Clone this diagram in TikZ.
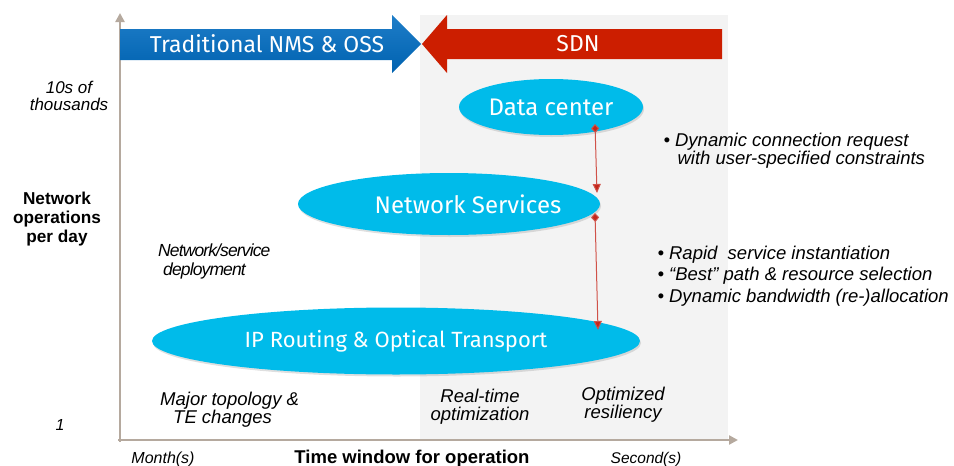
\documentclass[tikz,border=0pt]{standalone}
\usepackage{fontspec}
\setmainfont{Liberation Sans}
\newfontfamily\ovalfont{Fira Sans}
\definecolor{nmsblue}{RGB}{0, 98, 176}
\definecolor{nmsbluelight}{RGB}{30, 125, 200}
\definecolor{sdnred}{RGB}{204, 30, 0}
\definecolor{ovalcyan}{RGB}{0, 187, 234}
\definecolor{axisgray}{RGB}{181, 169, 158}
\definecolor{sdngray}{RGB}{243, 243, 243}
\definecolor{linkred}{RGB}{196, 38, 26}
\usetikzlibrary{arrows.meta, positioning, shapes.geometric, shadows}

\begin{document}
\begin{tikzpicture}[x=1pt, y=-1pt,
    oval/.style={ellipse, fill=ovalcyan, text=white, inner sep=0pt,
        font=\ovalfont\fontsize{24}{28}\selectfont,
        drop shadow={opacity=0.25, shadow xshift=1pt, shadow yshift=-2pt}},
    ovaltext/.style={text=white, font=\ovalfont\fontsize{24}{28}\selectfont},
    bannertext/.style={text=white, font=\ovalfont\fontsize{23}{27}\selectfont},
    note/.style={font=\itshape\fontsize{18.5}{18}\selectfont},
    axisline/.style={draw=axisgray, line width=2.5pt, -{Triangle[length=9pt, width=9pt]}},
    link/.style={draw=linkred!80, line width=1pt,
        {Diamond[length=9pt, width=8pt, fill=linkred]}-{Triangle[length=9pt, width=8pt, fill=linkred]}}]
    \useasboundingbox (0,0) rectangle (954,466);

    % SDN background
    \fill[sdngray] (420,15) rectangle (728,440);

    % Axes
    \draw[axisline] (120,442) -- (120,13);
    \draw[axisline] (118,440) -- (738,440);

    % Banner arrows
    \shade[top color=nmsbluelight, bottom color=nmsblue]
        (120,29) -- (392,29) -- (392,15) -- (421,44) -- (392,73) -- (392,60) -- (120,60) -- cycle;
    \fill[sdnred]
        (422,44) -- (447,15) -- (447,29) -- (722,29) -- (722,59) -- (447,59) -- (447,73) -- cycle;
    \node[bannertext] (nms) at (267,44) {Traditional NMS \& OSS};
    \node[bannertext] (sdn) at (578,44) {SDN};

    % Nodes
    \node[oval, minimum width=184, minimum height=56] (dc) at (551,107) {Data center};
    \node[oval, minimum width=302, minimum height=62] (ns) at (449,204) {};
    \node[ovaltext] (nstext) at ([xshift=19pt]ns.center) {Network Services};
    \node[oval, minimum width=488, minimum height=67, font=\ovalfont\fontsize{22}{26}\selectfont] (ip) at (396,341)
        {IP Routing \& Optical Transport};

    % Arrows
    \draw[link] ([xshift=44pt, yshift=-17pt]dc.center) -- ([xshift=148pt, yshift=11pt]ns.center);
    \draw[link] ([xshift=146pt, yshift=-9pt]ns.center) -- ([xshift=202pt, yshift=11pt]ip.center);

    % Axis labels
    \node[note, align=center, font=\itshape\fontsize{17}{16.5}\selectfont] (ytop) at (69,96) {10s of\\thousands};
    \node[font=\bfseries\fontsize{17.2}{19}\selectfont, align=center] (ylabel) at (57,219) {Network\\operations\\per day};
    \node[note, font=\itshape\fontsize{16}{18}\selectfont] (ybottom) at (60,425) {1};
    \node[note, font=\itshape\fontsize{16}{18}\selectfont] (xleft) at (163,459) {Month(s)};
    \node[font=\bfseries\fontsize{18.5}{20}\selectfont] (xlabel) at (412,459) {Time window for operation};
    \node[note, font=\itshape\fontsize{15.5}{18}\selectfont] (xright) at (646,459) {Second(s)};

    % Notes
    \node[note, align=left, anchor=west, inner sep=0pt,
        font=\itshape\fontsize{17.5}{19}\selectfont\addfontfeature{LetterSpace=-5}] (deploy) at (158,261)
        {Network/service\\\hspace*{5pt}deployment};
    \node[note, align=left, anchor=west, inner sep=0pt] (topo) at (160,410) {Major topology \&\\\hspace*{13pt}TE changes};
    \node[note, align=center] (realtime) at (480,407) {Real-time\\optimization};
    \node[note, align=center] (resil) at (623,405) {Optimized\\resiliency};
    \node[note, align=left, anchor=west] (dcnote) at (660,151)
        {\textbullet\ Dynamic connection request\\\hspace*{14pt}with user-specified constraints};
    \node[note, align=left, anchor=west, font=\itshape\fontsize{18.5}{21.5}\selectfont] (nsnote) at (654,276)
        {\textbullet\ Rapid\ \ service instantiation\\\textbullet\ “Best” path \& resource selection\\\textbullet\ Dynamic bandwidth (re-)allocation};
\end{tikzpicture}
\end{document}
